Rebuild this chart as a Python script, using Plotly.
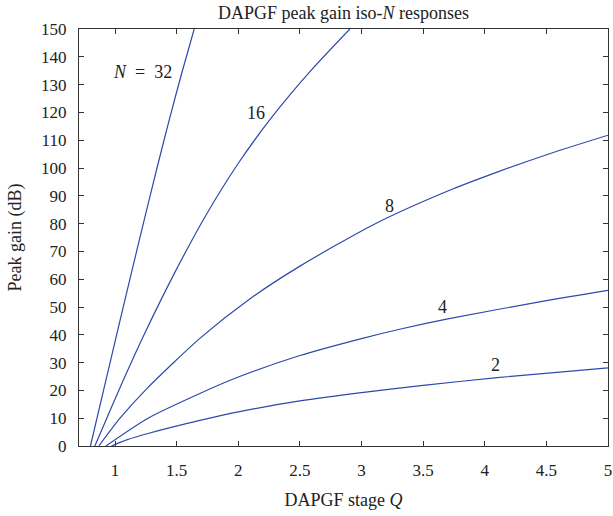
import plotly.graph_objects as go

# Data (stage Q vs peak gain in dB) for each N
q_n32 = [0.800, 0.910, 1.020, 1.125, 1.230, 1.335, 1.440, 1.540, 1.642]
g_n32 = [0, 20.7, 41.4, 60.9, 80.2, 99.1, 117.4, 134.0, 150]

q_n16 = [0.836, 1.030, 1.235, 1.480, 1.729, 2.000, 2.269, 2.590, 2.905]
g_n16 = [0, 20, 40, 62, 82.4, 101.7, 118.1, 135.1, 150]

q_n8 = [0.868, 1.040, 1.250, 1.690, 2.090, 2.500, 3.100, 3.700, 4.100, 4.550, 5.0]
g_n8 = [0, 10.0, 20.3, 38.8, 52.8, 64.7, 79.7, 91.7, 98.5, 105.5, 111.8]

q_n4 = [0.925, 1.267, 1.688, 2.0, 2.5, 3.0, 3.3, 3.7, 4.5, 5.0]
g_n4 = [0, 10, 18.9, 24.8, 32.55, 38.65, 41.9, 45.7, 52.3, 56.0]

q_n2 = [0.970, 1.100, 1.267, 1.688, 2.0, 2.5, 3.0, 3.5, 4.1, 5.0]
g_n2 = [0, 2.3, 4.5, 9.2, 12.3, 16.2, 19.2, 21.8, 24.6, 28.1]

labels = ["<i>N</i>&nbsp;&nbsp;=&nbsp;&nbsp;32", "16", "8", "4", "2"]
label_q = [1.223, 2.147, 3.227, 3.656, 4.083]
label_g = [134.6, 119.8, 86.4, 50.0, 29.1]

x_ticks = [1, 1.5, 2, 2.5, 3, 3.5, 4, 4.5, 5]
x_ticktext = ["1", "1.5", "2", "2.5", "3", "3.5", "4", "4.5", "5"]
y_ticks = list(range(0, 151, 10))

series = [(q_n32, g_n32), (q_n16, g_n16), (q_n8, g_n8), (q_n4, g_n4), (q_n2, g_n2)]

FONT = "Liberation Serif"
LINE = "#2d4aaa"
TXT = "#222222"

fig = go.Figure()
for qx, gy in series:
    fig.add_trace(go.Scatter(
        x=qx, y=gy, mode="lines",
        line=dict(color=LINE, width=1.2, shape="spline", smoothing=0.7),
        showlegend=False, hoverinfo="skip", cliponaxis=True,
    ))

for t, qx, gy in zip(labels, label_q, label_g):
    fig.add_annotation(x=qx, y=gy, text=t, showarrow=False,
                       xref="x", yref="y",
                       font=dict(family=FONT, size=18, color=TXT))

axis_common = dict(
    showgrid=False, zeroline=False, showline=True, linecolor="#333",
    linewidth=1.3, mirror="allticks", ticks="inside", ticklen=5,
    tickwidth=1.2, tickcolor="#333", automargin=False,
    tickfont=dict(family=FONT, size=17, color=TXT),
)

fig.update_xaxes(range=[0.7071, 5], tickvals=x_ticks, ticktext=x_ticktext,
                 ticklabelstandoff=8,
                 title=dict(text="DAPGF stage <i>Q</i>", standoff=14,
                            font=dict(family=FONT, size=18, color=TXT)),
                 **axis_common)
fig.update_yaxes(range=[0, 150], tickvals=y_ticks,
                 ticklabelstandoff=8,
                 title=dict(text="Peak gain (dB)", standoff=14,
                            font=dict(family=FONT, size=18, color=TXT)),
                 **axis_common)

fig.update_layout(
    width=613, height=516,
    margin=dict(l=79, r=5, t=29, b=70),
    paper_bgcolor="white", plot_bgcolor="white",
    title=dict(text="DAPGF peak gain iso-<i>N</i> responses", x=0.5, xanchor="center",
               xref="paper", y=1 - 13 / 516, yref="container", yanchor="middle",
               font=dict(family=FONT, size=18, color=TXT)),
)

fig.write_html("out.html")
